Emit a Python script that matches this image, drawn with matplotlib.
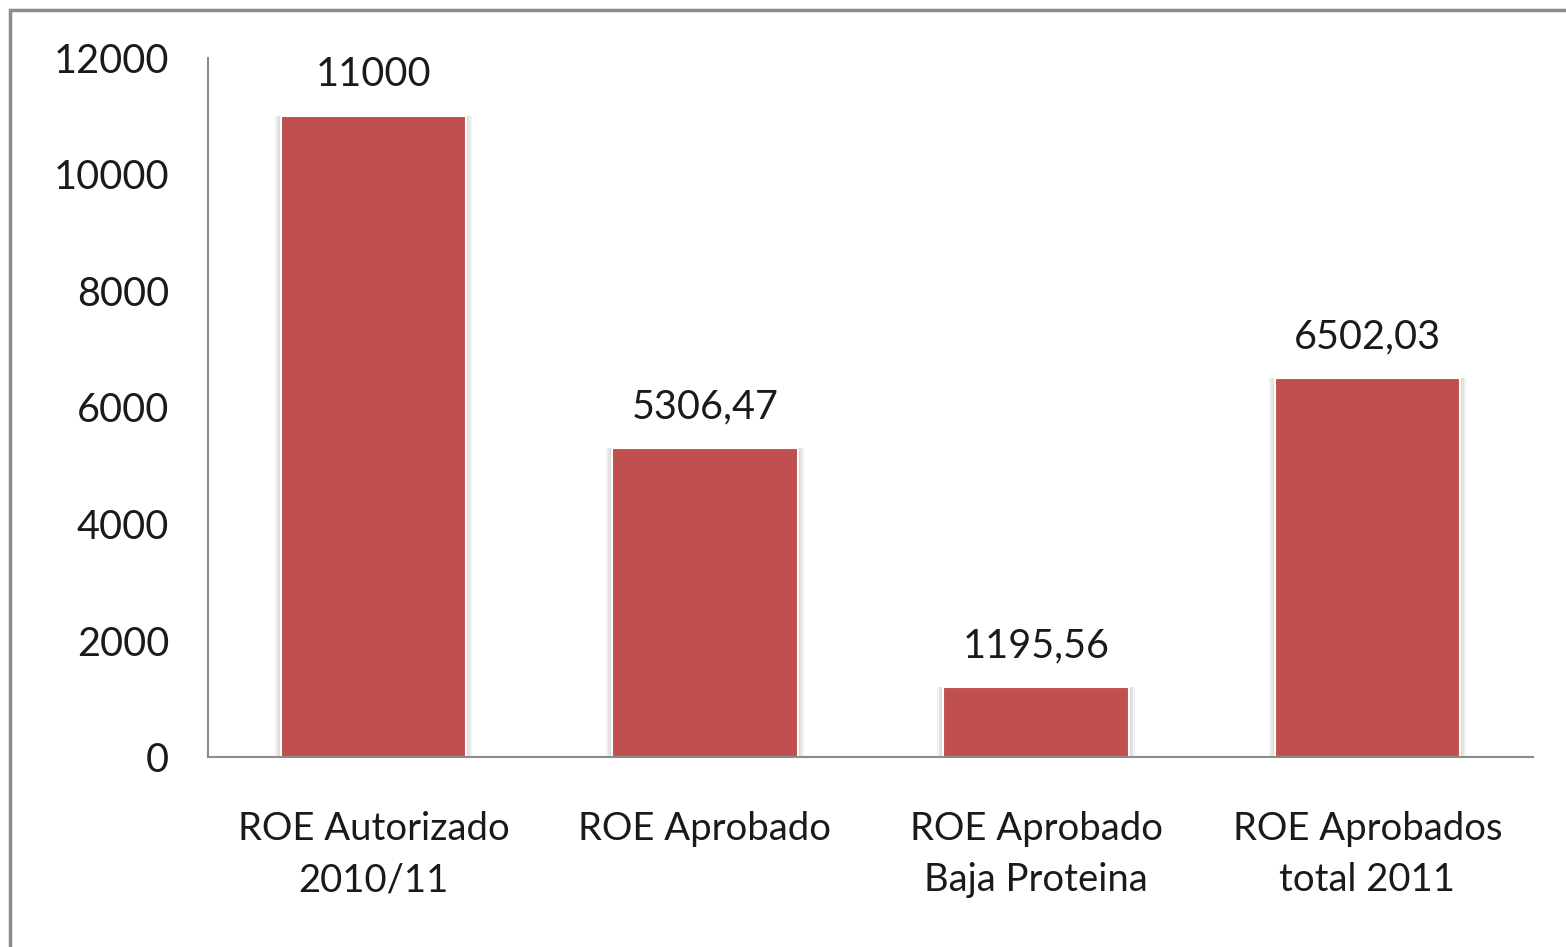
import matplotlib
matplotlib.use("Agg")
import matplotlib.pyplot as plt
from matplotlib.patches import Rectangle
import numpy as np

# data
categories = ["ROE Autorizado\n2010/11", "ROE Aprobado", "ROE Aprobado\nBaja Proteina", "ROE Aprobados\ntotal 2011"]
values = [11000, 5306.47, 1195.56, 6502.03]
value_labels = ["11000", "5306,47", "1195,56", "6502,03"]
yticks = [0, 2000, 4000, 6000, 8000, 10000, 12000]

plt.rcParams['font.family'] = ['Lato', 'DejaVu Sans']

fig = plt.figure(figsize=(15.66, 9.47), dpi=100)
ax = fig.add_axes([0.1328, 0.2006, 0.979 - 0.1328, 0.9388 - 0.2006])

x = np.arange(len(categories))
w = 0.56

# soft shadow behind bars
for k in range(3):
    ax.bar(x, values, width=w + 0.012 * (k + 1), color='#000000', alpha=0.05, zorder=1)
bars = ax.bar(x, values, width=w, color='#C0504D', edgecolor='white', linewidth=1.5, zorder=2)

for xi, v, lab in zip(x, values, value_labels):
    ax.annotate(lab, (xi, v), xytext=(0, 16.5), textcoords='offset points',
                ha='center', va='bottom', fontsize=28.5, color='#1a1a1a')

ax.set_xlim(-0.5, len(categories) - 0.5)
ax.set_ylim(0, 12000)
ax.set_yticks(yticks)
ax.set_yticklabels([str(t) for t in yticks])
ax.set_xticks(x)
ax.set_xticklabels(categories, linespacing=1.52)

ax.tick_params(axis='y', length=0, pad=28, labelsize=28.5, labelcolor='#1a1a1a')
ax.tick_params(axis='x', length=0, pad=39, labelsize=27.5, labelcolor='#1a1a1a')

for s in ['top', 'right']:
    ax.spines[s].set_visible(False)
for s in ['left', 'bottom']:
    ax.spines[s].set_color('#8c8c8c')
    ax.spines[s].set_linewidth(1.5)

# outer chart border (left and top visible only)
fig.patches.append(Rectangle((10 / 1566, -0.05), 1.2, 1 - 10 / 947 + 0.05,
                             transform=fig.transFigure, fill=False,
                             edgecolor='#8c8c8c', linewidth=2.5))

fig.savefig("out.png", dpi=100)
